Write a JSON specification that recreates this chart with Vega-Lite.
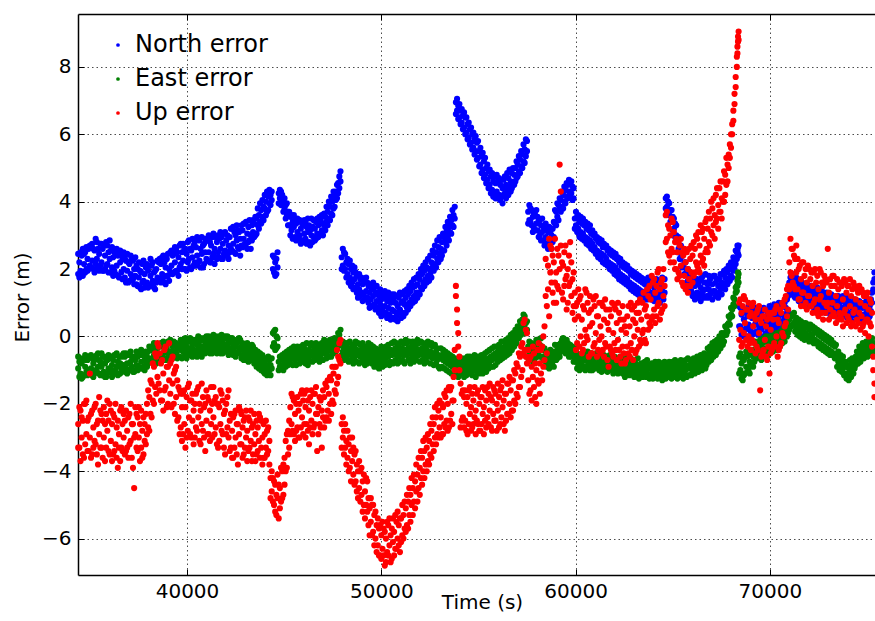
{
"$schema":"https://vega.github.io/schema/vega-lite/v6.json",
"width":797,"height":561,
"autosize":{"type":"none"},
"padding":{"left":78,"top":14,"right":0,"bottom":46},
"background":"white",
"config":{
"view":{"stroke":null},
"font":"DejaVu Sans",
"axis":{"domainColor":"#000","domainWidth":1.5,"tickColor":"#000","tickWidth":1,"tickSize":-6,"labelColor":"#000","labelFontSize":20,"labelFont":"DejaVu Sans","titleFont":"DejaVu Sans","titleFontSize":20,"titleFontWeight":"normal","titleColor":"#000","gridColor":"#000","gridDash":[1.5,3],"gridOpacity":0.7,"gridWidth":1},
"legend":{"orient":"none","legendX":28,"legendY":19,"padding":0,"symbolType":"circle","symbolSize":14,"symbolStrokeWidth":0,"labelFontSize":24,"labelFont":"DejaVu Sans","labelColor":"#000","labelOffset":5,"rowPadding":10,"labelLimit":300,"title":null}
},
"data":{"values":[
{"t":34400,"N":1.85,"E":-0.95,"U":-2.6,"n":2.45,"e":-0.6,"u":-3.3},{"t":34460,"N":2.2,"E":-0.75,"U":-3.3,"n":1.75,"e":-1.2,"u":-2.1},{"t":34520,"N":1.95,"E":-1.1,"U":-2.2,"n":2.5,"e":-0.65,"u":-3.7},{"t":34580,"N":2.4,"E":-0.8,"U":-3.0,"n":1.85,"e":-1.25,"u":-2.4},{"t":34640,"N":1.8,"E":-1.2,"U":-2.5,"n":2.6,"e":-0.7,"u":-3.5},{"t":34700,"N":2.15,"E":-0.65,"U":-3.6,"n":2.45,"e":-1.15,"u":-2.0},{"t":34760,"N":2.5,"E":-0.9,"U":-2.0,"n":1.9,"e":-0.55,"u":-3.2},{"t":34820,"N":2.0,"E":-1.05,"U":-2.9,"n":2.65,"e":-0.7,"u":-1.9},{"t":34880,"N":2.3,"E":-0.7,"U":-3.4,"n":1.95,"e":-1.15,"u":-2.5},{"t":34940,"N":2.6,"E":-1.0,"U":-2.4,"n":2.0,"e":-0.6,"u":-3.4},
{"t":35000,"N":2.1,"E":-0.6,"U":-1.1,"n":2.7,"e":-1.1,"u":-3.0},{"t":35060,"N":2.7,"E":-0.95,"U":-2.3,"n":2.05,"e":-0.55,"u":-3.6},{"t":35120,"N":2.25,"E":-1.15,"U":-3.5,"n":2.75,"e":-0.65,"u":-2.2},{"t":35180,"N":2.0,"E":-0.8,"U":-2.7,"n":2.6,"e":-1.2,"u":-3.3},{"t":35240,"N":2.55,"E":-0.7,"U":-2.1,"n":1.9,"e":-1.1,"u":-3.1},{"t":35300,"N":2.9,"E":-1.0,"U":-3.2,"n":2.15,"e":-0.6,"u":-2.0},{"t":35360,"N":2.3,"E":-0.55,"U":-2.6,"n":2.8,"e":-1.05,"u":-3.5},{"t":35420,"N":2.05,"E":-0.9,"U":-3.8,"n":2.6,"e":-0.5,"u":-2.5},{"t":35480,"N":2.45,"E":-1.1,"U":-2.9,"n":1.95,"e":-0.7,"u":-1.8},{"t":35540,"N":2.75,"E":-0.75,"U":-2.2,"n":2.1,"e":-1.15,"u":-3.3},
{"t":35600,"N":2.2,"E":-0.9,"U":-3.3,"n":2.75,"e":-0.5,"u":-2.3},{"t":35660,"N":2.6,"E":-0.6,"U":-2.5,"n":1.95,"e":-1.15,"u":-3.6},{"t":35720,"N":1.95,"E":-1.05,"U":-3.0,"n":2.7,"e":-0.6,"u":-2.1},{"t":35780,"N":2.4,"E":-0.8,"U":-3.7,"n":2.0,"e":-1.2,"u":-2.6},{"t":35840,"N":2.8,"E":-1.2,"U":-2.3,"n":2.1,"e":-0.7,"u":-3.3},{"t":35900,"N":2.15,"E":-0.7,"U":-2.8,"n":2.7,"e":-1.1,"u":-1.9},{"t":35960,"N":2.5,"E":-0.95,"U":-3.4,"n":1.9,"e":-0.55,"u":-2.5},{"t":36020,"N":2.3,"E":-0.65,"U":-2.0,"n":2.85,"e":-1.05,"u":-3.5},{"t":36080,"N":1.9,"E":-1.0,"U":-3.1,"n":2.55,"e":-0.6,"u":-2.2},{"t":36140,"N":2.65,"E":-0.85,"U":-2.6,"n":2.05,"e":-1.2,"u":-3.7},
{"t":36200,"N":2.35,"E":-0.7,"U":-3.5,"n":1.8,"e":-1.1,"u":-2.3},{"t":36260,"N":1.95,"E":-1.05,"U":-2.4,"n":2.5,"e":-0.55,"u":-3.4},{"t":36320,"N":2.5,"E":-0.55,"U":-3.2,"n":1.85,"e":-1.0,"u":-2.0},{"t":36380,"N":2.1,"E":-0.9,"U":-2.7,"n":2.6,"e":-0.5,"u":-3.6},{"t":36440,"N":1.8,"E":-0.75,"U":-3.9,"n":2.4,"e":-1.15,"u":-2.5},{"t":36500,"N":2.45,"E":-1.1,"U":-2.9,"n":1.75,"e":-0.6,"u":-3.3},{"t":36560,"N":2.2,"E":-0.8,"U":-2.2,"n":2.55,"e":-1.1,"u":-3.7},{"t":36620,"N":1.9,"E":-0.6,"U":-3.3,"n":2.45,"e":-0.95,"u":-2.1},{"t":36680,"N":2.3,"E":-1.0,"U":-2.6,"n":1.7,"e":-0.55,"u":-3.4},{"t":36740,"N":2.0,"E":-0.85,"U":-3.0,"n":2.5,"e":-0.5,"u":-2.3},
{"t":36800,"N":1.75,"E":-0.6,"U":-2.5,"n":2.35,"e":-1.05,"u":-3.5},{"t":36860,"N":2.25,"E":-0.95,"U":-3.4,"n":1.6,"e":-0.5,"u":-2.2},{"t":36920,"N":1.95,"E":-0.8,"U":-2.8,"n":2.45,"e":-1.1,"u":-3.3},{"t":36980,"N":1.6,"E":-1.0,"U":-3.6,"n":2.2,"e":-0.55,"u":-2.4},{"t":37040,"N":2.15,"E":-0.55,"U":-2.3,"n":1.65,"e":-1.0,"u":-3.2},{"t":37100,"N":1.85,"E":-0.75,"U":-3.1,"n":2.4,"e":-0.45,"u":-2.0},{"t":37160,"N":2.3,"E":-0.9,"U":-2.6,"n":1.7,"e":-0.6,"u":-3.6},{"t":37220,"N":1.7,"E":-0.65,"U":-3.9,"n":2.25,"e":-1.05,"u":-2.6},{"t":37280,"N":2.0,"E":-1.05,"U":-4.5,"n":1.55,"e":-0.6,"u":-3.0},{"t":37340,"N":1.8,"E":-0.7,"U":-2.9,"n":2.35,"e":-1.0,"u":-2.1},
{"t":37400,"N":1.55,"E":-0.85,"U":-3.3,"n":2.1,"e":-0.45,"u":-2.3},{"t":37460,"N":2.0,"E":-0.6,"U":-2.4,"n":1.5,"e":-1.0,"u":-3.4},{"t":37520,"N":1.75,"E":-0.9,"U":-3.0,"n":2.2,"e":-0.5,"u":-2.1},{"t":37580,"N":1.45,"E":-0.55,"U":-3.7,"n":1.95,"e":-0.95,"u":-2.6},{"t":37640,"N":1.9,"E":-0.75,"U":-2.2,"n":1.4,"e":-0.4,"u":-3.3},{"t":37700,"N":2.15,"E":-0.95,"U":-2.8,"n":1.6,"e":-0.55,"u":-3.6},{"t":37760,"N":1.65,"E":-0.5,"U":-3.5,"n":2.25,"e":-0.9,"u":-2.4},{"t":37820,"N":1.85,"E":-0.7,"U":-2.6,"n":1.45,"e":-1.0,"u":-3.1},{"t":37880,"N":2.05,"E":-0.85,"U":-3.2,"n":1.55,"e":-0.45,"u":-2.3},{"t":37940,"N":1.6,"E":-0.6,"U":-2.0,"n":2.15,"e":-0.9,"u":-2.9},
{"t":38000,"N":1.95,"E":-0.45,"U":-2.7,"n":1.45,"e":-0.8,"u":-1.6},{"t":38060,"N":1.5,"E":-0.7,"U":-1.8,"n":2.1,"e":-0.3,"u":-2.8},{"t":38120,"N":1.8,"E":-0.4,"U":-2.3,"n":2.3,"e":-0.75,"u":-1.3},{"t":38180,"N":2.1,"E":-0.65,"U":-1.4,"n":1.55,"e":-0.3,"u":-2.4},{"t":38240,"N":1.65,"E":-0.3,"U":-1.9,"n":2.2,"e":-0.7,"u":-0.8},{"t":38300,"N":1.9,"E":-0.55,"U":-0.9,"n":1.45,"e":-0.2,"u":-2.0},{"t":38360,"N":1.4,"E":-0.75,"U":-1.5,"n":1.95,"e":-0.4,"u":-0.5},{"t":38420,"N":2.0,"E":-0.5,"U":-0.6,"n":1.6,"e":-0.8,"u":-1.7},{"t":38480,"N":1.75,"E":-0.35,"U":-1.2,"n":2.25,"e":-0.65,"u":-0.2},{"t":38540,"N":2.2,"E":-0.6,"U":-0.3,"n":1.7,"e":-0.25,"u":-1.4},
{"t":38600,"N":1.7,"E":-0.3,"U":-1.6,"n":2.3,"e":-0.65,"u":-0.5},{"t":38660,"N":2.15,"E":-0.55,"U":-0.8,"n":1.6,"e":-0.2,"u":-1.9},{"t":38720,"N":1.85,"E":-0.25,"U":-1.9,"n":2.35,"e":-0.6,"u":-0.7},{"t":38780,"N":2.4,"E":-0.5,"U":-1.1,"n":1.75,"e":-0.15,"u":-2.2},{"t":38840,"N":1.6,"E":-0.4,"U":-0.4,"n":2.2,"e":-0.7,"u":-1.6},{"t":38900,"N":2.05,"E":-0.65,"U":-1.5,"n":1.55,"e":-0.25,"u":-0.3},{"t":38960,"N":2.3,"E":-0.35,"U":-2.1,"n":1.8,"e":-0.7,"u":-0.9},{"t":39020,"N":1.8,"E":-0.5,"U":-0.9,"n":2.45,"e":-0.15,"u":-2.0},{"t":39080,"N":2.0,"E":-0.2,"U":-1.3,"n":1.65,"e":-0.55,"u":-0.2},{"t":39140,"N":2.5,"E":-0.45,"U":-1.7,"n":1.9,"e":-0.1,"u":-0.8},
{"t":39200,"N":2.1,"E":-0.55,"U":-0.7,"n":2.55,"e":-0.2,"u":-2.1},{"t":39260,"N":1.85,"E":-0.3,"U":-1.4,"n":2.4,"e":-0.65,"u":-0.6},{"t":39320,"N":2.45,"E":-0.45,"U":-2.0,"n":1.9,"e":-0.15,"u":-1.1},{"t":39380,"N":2.2,"E":-0.2,"U":-1.0,"n":2.65,"e":-0.55,"u":-2.3},{"t":39440,"N":2.6,"E":-0.5,"U":-1.8,"n":1.95,"e":-0.2,"u":-0.9},{"t":39500,"N":1.95,"E":-0.35,"U":-1.3,"n":2.5,"e":-0.65,"u":-2.5},{"t":39560,"N":2.35,"E":-0.6,"U":-2.4,"n":1.8,"e":-0.25,"u":-1.5},{"t":39620,"N":2.7,"E":-0.25,"U":-1.6,"n":2.05,"e":-0.6,"u":-2.9},{"t":39680,"N":2.15,"E":-0.4,"U":-2.7,"n":2.75,"e":-0.1,"u":-1.7},{"t":39740,"N":2.5,"E":-0.3,"U":-2.1,"n":2.0,"e":-0.65,"u":-3.1},
{"t":39800,"N":2.25,"E":-0.45,"U":-1.7,"n":2.75,"e":-0.1,"u":-2.9},{"t":39860,"N":2.6,"E":-0.2,"U":-2.6,"n":2.0,"e":-0.6,"u":-1.6},{"t":39920,"N":2.0,"E":-0.4,"U":-2.1,"n":2.6,"e":-0.05,"u":-3.3},{"t":39980,"N":2.45,"E":-0.3,"U":-3.0,"n":1.95,"e":-0.65,"u":-1.8},{"t":40040,"N":2.8,"E":-0.5,"U":-1.5,"n":2.2,"e":-0.15,"u":-2.8},{"t":40100,"N":2.3,"E":-0.15,"U":-2.4,"n":2.85,"e":-0.55,"u":-1.4},{"t":40160,"N":2.05,"E":-0.35,"U":-2.9,"n":2.6,"e":-0.05,"u":-1.9},{"t":40220,"N":2.55,"E":-0.45,"U":-1.9,"n":2.0,"e":-0.15,"u":-3.0},{"t":40280,"N":2.35,"E":-0.25,"U":-2.5,"n":2.9,"e":-0.6,"u":-1.7},{"t":40340,"N":2.7,"E":-0.4,"U":-3.2,"n":2.1,"e":-0.1,"u":-2.2},
{"t":40400,"N":2.2,"E":-0.2,"U":-2.0,"n":2.8,"e":-0.55,"u":-3.0},{"t":40460,"N":2.65,"E":-0.45,"U":-2.7,"n":2.1,"e":-0.1,"u":-1.7},{"t":40520,"N":2.4,"E":-0.25,"U":-1.6,"n":2.95,"e":-0.6,"u":-2.8},{"t":40580,"N":2.9,"E":-0.35,"U":-2.4,"n":2.2,"e":0.0,"u":-1.5},{"t":40640,"N":2.25,"E":-0.15,"U":-3.1,"n":2.85,"e":-0.5,"u":-2.0},{"t":40700,"N":2.6,"E":-0.4,"U":-2.2,"n":2.05,"e":-0.05,"u":-3.2},{"t":40760,"N":2.45,"E":-0.3,"U":-1.4,"n":2.95,"e":-0.6,"u":-2.6},{"t":40820,"N":2.05,"E":-0.1,"U":-2.8,"n":2.7,"e":-0.45,"u":-1.8},{"t":40880,"N":2.75,"E":-0.35,"U":-2.1,"n":2.15,"e":-0.05,"u":-3.0},{"t":40940,"N":2.5,"E":-0.2,"U":-3.4,"n":2.9,"e":-0.5,"u":-2.0},
{"t":41000,"N":2.3,"E":-0.35,"U":-2.5,"n":2.9,"e":0.0,"u":-1.6},{"t":41060,"N":2.85,"E":-0.1,"U":-1.8,"n":2.25,"e":-0.45,"u":-2.9},{"t":41120,"N":2.5,"E":-0.3,"U":-2.9,"n":3.0,"e":0.0,"u":-1.9},{"t":41180,"N":2.2,"E":-0.2,"U":-2.2,"n":2.8,"e":-0.5,"u":-3.1},{"t":41240,"N":2.7,"E":-0.4,"U":-1.5,"n":2.2,"e":-0.05,"u":-2.6},{"t":41300,"N":2.95,"E":-0.15,"U":-3.0,"n":2.35,"e":-0.5,"u":-2.0},{"t":41360,"N":2.45,"E":-0.25,"U":-2.4,"n":3.05,"e":0.05,"u":-1.5},{"t":41420,"N":2.6,"E":-0.05,"U":-1.9,"n":2.15,"e":-0.4,"u":-2.9},{"t":41480,"N":2.35,"E":-0.3,"U":-2.7,"n":2.95,"e":0.0,"u":-1.8},{"t":41540,"N":2.8,"E":-0.2,"U":-2.0,"n":2.3,"e":-0.5,"u":-3.2},
{"t":41600,"N":2.5,"E":-0.1,"U":-3.3,"n":3.0,"e":-0.45,"u":-2.0},{"t":41660,"N":2.9,"E":-0.35,"U":-2.1,"n":2.35,"e":0.0,"u":-3.1},{"t":41720,"N":2.6,"E":-0.2,"U":-2.6,"n":3.1,"e":-0.5,"u":-1.6},{"t":41780,"N":2.3,"E":-0.3,"U":-1.7,"n":2.95,"e":0.05,"u":-2.8},{"t":41840,"N":2.75,"E":-0.15,"U":-2.9,"n":2.3,"e":-0.5,"u":-1.9},{"t":41900,"N":3.05,"E":-0.4,"U":-2.3,"n":2.45,"e":-0.05,"u":-3.3},{"t":41960,"N":2.55,"E":-0.25,"U":-3.5,"n":3.1,"e":0.0,"u":-2.2},{"t":42020,"N":2.85,"E":-0.05,"U":-2.0,"n":2.4,"e":-0.45,"u":-2.9},{"t":42080,"N":2.4,"E":-0.3,"U":-2.7,"n":3.0,"e":0.0,"u":-1.8},{"t":42140,"N":2.7,"E":-0.2,"U":-1.6,"n":2.3,"e":-0.55,"u":-3.0},
{"t":42200,"N":2.95,"E":-0.35,"U":-2.5,"n":2.5,"e":-0.05,"u":-3.4},{"t":42260,"N":2.6,"E":-0.15,"U":-3.3,"n":3.2,"e":-0.5,"u":-2.3},{"t":42320,"N":3.2,"E":-0.4,"U":-2.8,"n":2.55,"e":-0.05,"u":-3.6},{"t":42380,"N":2.75,"E":-0.25,"U":-3.6,"n":3.25,"e":-0.55,"u":-2.4},{"t":42440,"N":2.5,"E":-0.45,"U":-2.3,"n":3.1,"e":-0.1,"u":-3.3},{"t":42500,"N":3.0,"E":-0.3,"U":-3.0,"n":2.45,"e":-0.6,"u":-2.2},{"t":42560,"N":2.85,"E":-0.2,"U":-2.6,"n":3.3,"e":-0.5,"u":-3.5},{"t":42620,"N":2.65,"E":-0.5,"U":-3.8,"n":3.15,"e":-0.15,"u":-2.6},{"t":42680,"N":3.1,"E":-0.35,"U":-2.9,"n":2.6,"e":-0.05,"u":-2.1},{"t":42740,"N":2.9,"E":-0.4,"U":-2.2,"n":2.4,"e":-0.1,"u":-3.2},
{"t":42800,"N":2.7,"E":-0.3,"U":-3.2,"n":3.3,"e":-0.65,"u":-2.3},{"t":42860,"N":3.15,"E":-0.55,"U":-2.7,"n":2.65,"e":-0.2,"u":-3.6},{"t":42920,"N":2.9,"E":-0.4,"U":-3.5,"n":3.35,"e":-0.7,"u":-2.5},{"t":42980,"N":3.35,"E":-0.6,"U":-2.4,"n":2.75,"e":-0.25,"u":-3.3},{"t":43040,"N":2.75,"E":-0.35,"U":-3.0,"n":3.4,"e":-0.7,"u":-2.2},{"t":43100,"N":3.05,"E":-0.5,"U":-2.8,"n":2.6,"e":-0.2,"u":-3.7},{"t":43160,"N":3.25,"E":-0.45,"U":-3.4,"n":2.8,"e":-0.75,"u":-2.4},{"t":43220,"N":2.85,"E":-0.65,"U":-2.5,"n":3.45,"e":-0.3,"u":-3.3},{"t":43280,"N":3.0,"E":-0.4,"U":-3.1,"n":2.6,"e":-0.7,"u":-2.2},{"t":43340,"N":3.3,"E":-0.55,"U":-3.7,"n":2.85,"e":-0.25,"u":-2.7},
{"t":43400,"N":3.1,"E":-0.6,"U":-2.6,"n":3.45,"e":-0.3,"u":-3.5},{"t":43460,"N":3.35,"E":-0.45,"U":-3.2,"n":2.95,"e":-0.8,"u":-2.3},{"t":43520,"N":3.0,"E":-0.7,"U":-2.9,"n":3.55,"e":-0.4,"u":-3.7},{"t":43580,"N":3.5,"E":-0.55,"U":-3.5,"n":3.05,"e":-0.9,"u":-2.5},{"t":43640,"N":3.3,"E":-0.75,"U":-2.7,"n":3.8,"e":-0.45,"u":-3.4},{"t":43700,"N":3.6,"E":-0.6,"U":-3.1,"n":3.2,"e":-0.95,"u":-2.3},{"t":43760,"N":3.4,"E":-0.8,"U":-2.4,"n":3.95,"e":-0.5,"u":-3.6},{"t":43820,"N":3.75,"E":-0.65,"U":-3.3,"n":3.35,"e":-1.0,"u":-2.5},{"t":43880,"N":3.55,"E":-0.85,"U":-3.0,"n":4.05,"e":-0.55,"u":-3.8},{"t":43940,"N":3.85,"E":-0.7,"U":-3.6,"n":3.45,"e":-1.05,"u":-2.6},
{"t":44000,"N":3.8,"E":-0.8,"U":-2.9,"n":4.2,"e":-1.1,"u":-3.6},{"t":44060,"N":4.0,"E":-0.95,"U":-3.3,"n":3.6,"e":-0.65,"u":-2.5},{"t":44120,"N":3.7,"E":-0.85,"U":-2.8,"n":4.3,"e":-1.15,"u":-3.5},{"t":44180,"N":4.15,"E":-0.9,"U":-3.4,"n":3.75,"e":-0.6,"u":-2.7},{"t":44240,"N":3.95,"E":-1.0,"U":-3.1,"n":4.35,"e":-0.7,"u":-3.8},{"t":44300,"N":4.2,"E":-0.85,"U":-4.2,"n":3.9,"e":-1.15,"u":-4.8},{"t":44360,"N":4.05,"E":-0.95,"U":-4.6,"n":4.3,"e":-0.65,"u":-4.0},{"t":44420,"N":2.4,"E":0.1,"U":-4.9,"n":2.0,"e":-0.3,"u":-4.2},{"t":44480,"N":1.9,"E":-0.2,"U":-4.3,"n":2.35,"e":0.15,"u":-5.0},{"t":44540,"N":2.2,"E":0.2,"U":-5.2,"n":1.8,"e":-0.4,"u":-4.4},
{"t":44600,"N":1.85,"E":-0.35,"U":-4.7,"n":2.3,"e":0.0,"u":-5.3},{"t":44660,"N":2.5,"E":-0.05,"U":-4.1,"n":2.05,"e":-0.3,"u":-4.8},{"t":44720,"N":4.25,"E":-0.75,"U":-5.4,"n":3.95,"e":-1.0,"u":-4.4},{"t":44780,"N":4.1,"E":-0.9,"U":-4.5,"n":4.35,"e":-0.6,"u":-5.1},{"t":44840,"N":4.3,"E":-0.65,"U":-4.9,"n":3.9,"e":-0.95,"u":-3.9},{"t":44900,"N":3.95,"E":-0.85,"U":-4.0,"n":4.2,"e":-0.55,"u":-4.8},{"t":44960,"N":4.05,"E":-0.7,"U":-4.7,"n":3.7,"e":-1.0,"u":-3.8},{"t":45020,"N":3.8,"E":-0.8,"U":-3.6,"n":4.1,"e":-0.5,"u":-4.4},{"t":45080,"N":3.9,"E":-0.6,"U":-3.1,"n":3.5,"e":-0.9,"u":-4.0},{"t":45140,"N":3.6,"E":-0.75,"U":-3.9,"n":3.95,"e":-0.45,"u":-2.9},
{"t":45200,"N":3.7,"E":-0.55,"U":-2.8,"n":3.3,"e":-0.85,"u":-3.5},{"t":45260,"N":3.3,"E":-0.7,"U":-3.3,"n":3.7,"e":-0.4,"u":-2.5},{"t":45320,"N":3.55,"E":-0.5,"U":-2.1,"n":3.0,"e":-0.8,"u":-2.9},{"t":45380,"N":3.15,"E":-0.65,"U":-2.6,"n":3.6,"e":-0.35,"u":-1.7},{"t":45440,"N":3.4,"E":-0.45,"U":-1.8,"n":2.9,"e":-0.85,"u":-2.8},{"t":45500,"N":3.25,"E":-0.6,"U":-2.9,"n":3.6,"e":-0.3,"u":-1.9},{"t":45560,"N":2.95,"E":-0.7,"U":-2.3,"n":3.45,"e":-0.4,"u":-3.1},{"t":45620,"N":3.35,"E":-0.5,"U":-2.0,"n":2.85,"e":-0.85,"u":-2.8},{"t":45680,"N":3.1,"E":-0.55,"U":-2.7,"n":3.5,"e":-0.3,"u":-1.8},{"t":45740,"N":3.45,"E":-0.65,"U":-2.2,"n":2.95,"e":-0.35,"u":-3.0},
{"t":45800,"N":3.0,"E":-0.45,"U":-3.0,"n":3.45,"e":-0.8,"u":-2.0},{"t":45860,"N":3.2,"E":-0.6,"U":-1.7,"n":2.75,"e":-0.3,"u":-2.7},{"t":45920,"N":2.85,"E":-0.4,"U":-2.4,"n":3.35,"e":-0.75,"u":-1.6},{"t":45980,"N":3.3,"E":-0.55,"U":-1.9,"n":2.8,"e":-0.25,"u":-2.9},{"t":46040,"N":3.05,"E":-0.65,"U":-2.6,"n":3.45,"e":-0.35,"u":-1.7},{"t":46100,"N":2.9,"E":-0.45,"U":-2.1,"n":3.4,"e":-0.8,"u":-3.0},{"t":46160,"N":3.25,"E":-0.5,"U":-1.6,"n":2.75,"e":-0.2,"u":-2.6},{"t":46220,"N":3.1,"E":-0.6,"U":-2.8,"n":3.5,"e":-0.85,"u":-1.9},{"t":46280,"N":2.8,"E":-0.4,"U":-2.2,"n":3.3,"e":-0.7,"u":-3.2},{"t":46340,"N":3.15,"E":-0.55,"U":-1.8,"n":2.7,"e":-0.25,"u":-2.7},
{"t":46400,"N":3.0,"E":-0.5,"U":-2.5,"n":3.5,"e":-0.2,"u":-1.6},{"t":46460,"N":3.25,"E":-0.45,"U":-2.0,"n":2.8,"e":-0.75,"u":-2.9},{"t":46520,"N":2.95,"E":-0.6,"U":-2.7,"n":3.45,"e":-0.3,"u":-1.7},{"t":46580,"N":3.2,"E":-0.4,"U":-1.7,"n":2.85,"e":-0.7,"u":-2.6},{"t":46640,"N":3.4,"E":-0.5,"U":-2.3,"n":2.9,"e":-0.2,"u":-1.5},{"t":46700,"N":3.05,"E":-0.35,"U":-3.4,"n":3.5,"e":-0.65,"u":-2.3},{"t":46760,"N":3.3,"E":-0.55,"U":-2.1,"n":2.95,"e":-0.25,"u":-2.9},{"t":46820,"N":3.0,"E":-0.45,"U":-2.6,"n":3.55,"e":-0.75,"u":-1.8},{"t":46880,"N":3.45,"E":-0.3,"U":-1.9,"n":3.05,"e":-0.6,"u":-2.7},{"t":46940,"N":3.15,"E":-0.5,"U":-3.3,"n":3.6,"e":-0.2,"u":-2.2},
{"t":47000,"N":3.35,"E":-0.4,"U":-2.4,"n":3.0,"e":-0.7,"u":-1.6},{"t":47060,"N":3.3,"E":-0.35,"U":-1.8,"n":3.65,"e":-0.1,"u":-2.7},{"t":47120,"N":3.55,"E":-0.5,"U":-2.5,"n":3.15,"e":-0.2,"u":-1.4},{"t":47180,"N":3.4,"E":-0.3,"U":-1.5,"n":3.85,"e":-0.65,"u":-2.4},{"t":47240,"N":3.7,"E":-0.45,"U":-2.2,"n":3.3,"e":-0.15,"u":-1.3},{"t":47300,"N":3.5,"E":-0.25,"U":-1.7,"n":4.0,"e":-0.6,"u":-2.5},{"t":47360,"N":3.85,"E":-0.4,"U":-2.0,"n":3.45,"e":-0.1,"u":-1.2},{"t":47420,"N":3.65,"E":-0.3,"U":-1.3,"n":4.15,"e":-0.6,"u":-2.3},{"t":47480,"N":4.0,"E":-0.45,"U":-1.9,"n":3.6,"e":-0.15,"u":-0.9},{"t":47540,"N":3.8,"E":-0.2,"U":-1.1,"n":4.3,"e":-0.5,"u":-2.0},
{"t":47600,"N":4.15,"E":-0.35,"U":-1.6,"n":3.85,"e":-0.05,"u":-0.9},{"t":47660,"N":4.3,"E":-0.25,"U":-0.9,"n":4.05,"e":-0.45,"u":-1.7},{"t":47720,"N":4.1,"E":-0.1,"U":-1.4,"n":4.5,"e":-0.35,"u":-0.4},{"t":47780,"N":4.55,"E":-0.3,"U":-0.6,"n":4.25,"e":0.1,"u":-1.2},{"t":47840,"N":4.4,"E":0.05,"U":-0.2,"n":4.75,"e":-0.25,"u":-0.7},{"t":47900,"N":4.9,"E":-0.15,"U":-0.8,"n":4.6,"e":0.2,"u":-0.1},{"t":47960,"N":2.35,"E":-0.2,"U":-2.6,"n":2.0,"e":-0.55,"u":-3.3},{"t":48020,"N":2.1,"E":-0.45,"U":-3.0,"n":2.6,"e":-0.15,"u":-2.4},{"t":48080,"N":2.5,"E":-0.35,"U":-2.8,"n":1.95,"e":-0.7,"u":-3.5},{"t":48140,"N":2.0,"E":-0.5,"U":-3.3,"n":2.45,"e":-0.2,"u":-2.6},
{"t":48200,"N":2.2,"E":-0.3,"U":-3.1,"n":1.75,"e":-0.65,"u":-3.8},{"t":48260,"N":1.85,"E":-0.55,"U":-3.6,"n":2.3,"e":-0.2,"u":-2.8},{"t":48320,"N":2.15,"E":-0.4,"U":-3.2,"n":1.6,"e":-0.75,"u":-4.0},{"t":48380,"N":1.75,"E":-0.5,"U":-3.9,"n":2.25,"e":-0.15,"u":-3.0},{"t":48440,"N":2.0,"E":-0.35,"U":-3.4,"n":1.5,"e":-0.7,"u":-4.3},{"t":48500,"N":1.6,"E":-0.6,"U":-3.7,"n":2.1,"e":-0.25,"u":-3.0},{"t":48560,"N":1.9,"E":-0.45,"U":-4.1,"n":1.4,"e":-0.8,"u":-3.3},{"t":48620,"N":1.7,"E":-0.3,"U":-3.5,"n":2.05,"e":-0.65,"u":-4.4},{"t":48680,"N":1.45,"E":-0.5,"U":-4.3,"n":1.9,"e":-0.15,"u":-3.4},{"t":48740,"N":1.8,"E":-0.4,"U":-3.8,"n":1.3,"e":-0.75,"u":-4.6},
{"t":48800,"N":1.55,"E":-0.55,"U":-4.0,"n":1.15,"e":-0.2,"u":-4.8},{"t":48860,"N":1.4,"E":-0.45,"U":-4.5,"n":1.85,"e":-0.8,"u":-3.7},{"t":48920,"N":1.7,"E":-0.6,"U":-4.0,"n":1.2,"e":-0.25,"u":-4.9},{"t":48980,"N":1.3,"E":-0.4,"U":-4.7,"n":1.75,"e":-0.75,"u":-3.9},{"t":49040,"N":1.55,"E":-0.55,"U":-4.3,"n":1.05,"e":-0.2,"u":-5.2},{"t":49100,"N":1.25,"E":-0.35,"U":-5.0,"n":1.7,"e":-0.7,"u":-4.1},{"t":49160,"N":1.6,"E":-0.5,"U":-4.6,"n":1.1,"e":-0.85,"u":-5.4},{"t":49220,"N":1.35,"E":-0.65,"U":-4.2,"n":1.75,"e":-0.3,"u":-5.0},{"t":49280,"N":1.15,"E":-0.45,"U":-5.2,"n":1.6,"e":-0.8,"u":-4.3},{"t":49340,"N":1.5,"E":-0.55,"U":-4.8,"n":1.0,"e":-0.2,"u":-5.6},
{"t":49400,"N":1.3,"E":-0.4,"U":-5.1,"n":0.85,"e":-0.75,"u":-5.9},{"t":49460,"N":1.1,"E":-0.6,"U":-5.5,"n":1.55,"e":-0.25,"u":-4.8},{"t":49520,"N":1.4,"E":-0.45,"U":-5.0,"n":0.9,"e":-0.8,"u":-5.9},{"t":49580,"N":1.2,"E":-0.65,"U":-5.8,"n":1.6,"e":-0.3,"u":-5.0},{"t":49640,"N":0.95,"E":-0.55,"U":-5.3,"n":1.45,"e":-0.9,"u":-6.2},{"t":49700,"N":1.3,"E":-0.7,"U":-6.0,"n":0.8,"e":-0.35,"u":-5.2},{"t":49760,"N":1.05,"E":-0.5,"U":-5.6,"n":1.5,"e":-0.85,"u":-6.4},{"t":49820,"N":0.85,"E":-0.75,"U":-6.2,"n":1.3,"e":-0.4,"u":-5.4},{"t":49880,"N":1.2,"E":-0.6,"U":-5.7,"n":0.7,"e":-0.95,"u":-6.5},{"t":49940,"N":0.95,"E":-0.8,"U":-6.5,"n":1.4,"e":-0.45,"u":-5.6},
{"t":50000,"N":1.1,"E":-0.65,"U":-5.9,"n":0.6,"e":-0.3,"u":-6.6},{"t":50060,"N":0.8,"E":-0.55,"U":-6.3,"n":1.3,"e":-0.9,"u":-5.5},{"t":50120,"N":1.15,"E":-0.7,"U":-5.7,"n":0.65,"e":-0.35,"u":-6.5},{"t":50180,"N":0.9,"E":-0.5,"U":-6.8,"n":1.35,"e":-0.85,"u":-5.8},{"t":50240,"N":0.7,"E":-0.65,"U":-6.0,"n":1.2,"e":-0.3,"u":-6.7},{"t":50300,"N":1.05,"E":-0.45,"U":-6.4,"n":0.55,"e":-0.8,"u":-5.5},{"t":50360,"N":0.85,"E":-0.6,"U":-5.6,"n":1.3,"e":-0.25,"u":-6.5},{"t":50420,"N":0.65,"E":-0.5,"U":-6.2,"n":1.15,"e":-0.85,"u":-5.4},{"t":50480,"N":1.0,"E":-0.4,"U":-5.9,"n":0.5,"e":-0.75,"u":-6.7},{"t":50540,"N":0.8,"E":-0.55,"U":-6.6,"n":1.25,"e":-0.2,"u":-5.7},
{"t":50600,"N":1.1,"E":-0.45,"U":-6.1,"n":0.55,"e":-0.8,"u":-5.4},{"t":50660,"N":0.75,"E":-0.5,"U":-5.8,"n":1.25,"e":-0.15,"u":-6.5},{"t":50720,"N":1.0,"E":-0.35,"U":-6.3,"n":0.5,"e":-0.7,"u":-5.3},{"t":50780,"N":0.6,"E":-0.55,"U":-5.5,"n":1.2,"e":-0.2,"u":-6.3},{"t":50840,"N":0.9,"E":-0.45,"U":-6.0,"n":0.45,"e":-0.8,"u":-5.2},{"t":50900,"N":1.15,"E":-0.6,"U":-5.6,"n":0.7,"e":-0.25,"u":-6.2},{"t":50960,"N":0.8,"E":-0.4,"U":-6.4,"n":1.3,"e":-0.75,"u":-5.4},{"t":51020,"N":1.0,"E":-0.5,"U":-5.4,"n":0.55,"e":-0.15,"u":-6.1},{"t":51080,"N":0.7,"E":-0.35,"U":-5.9,"n":1.25,"e":-0.7,"u":-5.0},{"t":51140,"N":1.05,"E":-0.55,"U":-5.3,"n":0.6,"e":-0.2,"u":-6.0},
{"t":51200,"N":0.95,"E":-0.45,"U":-5.7,"n":1.35,"e":-0.8,"u":-4.9},{"t":51260,"N":1.15,"E":-0.4,"U":-5.1,"n":0.7,"e":-0.1,"u":-5.8},{"t":51320,"N":0.85,"E":-0.55,"U":-5.6,"n":1.4,"e":-0.2,"u":-4.7},{"t":51380,"N":1.25,"E":-0.35,"U":-4.9,"n":0.8,"e":-0.7,"u":-5.7},{"t":51440,"N":1.0,"E":-0.5,"U":-5.3,"n":1.5,"e":-0.15,"u":-4.5},{"t":51500,"N":1.35,"E":-0.45,"U":-4.7,"n":0.9,"e":-0.8,"u":-5.5},{"t":51560,"N":1.1,"E":-0.3,"U":-5.0,"n":1.6,"e":-0.65,"u":-4.2},{"t":51620,"N":1.45,"E":-0.5,"U":-4.5,"n":1.0,"e":-0.15,"u":-5.3},{"t":51680,"N":1.2,"E":-0.4,"U":-4.9,"n":1.7,"e":-0.75,"u":-4.1},{"t":51740,"N":1.5,"E":-0.55,"U":-4.3,"n":1.05,"e":-0.2,"u":-5.1},
{"t":51800,"N":1.3,"E":-0.35,"U":-4.6,"n":1.75,"e":-0.7,"u":-3.8},{"t":51860,"N":1.55,"E":-0.45,"U":-4.1,"n":1.15,"e":-0.1,"u":-4.9},{"t":51920,"N":1.3,"E":-0.55,"U":-4.5,"n":1.85,"e":-0.2,"u":-3.6},{"t":51980,"N":1.7,"E":-0.4,"U":-3.9,"n":1.25,"e":-0.75,"u":-4.7},{"t":52040,"N":1.45,"E":-0.5,"U":-4.2,"n":2.0,"e":-0.15,"u":-3.4},{"t":52100,"N":1.85,"E":-0.35,"U":-3.6,"n":1.4,"e":-0.7,"u":-4.4},{"t":52160,"N":1.6,"E":-0.55,"U":-4.0,"n":2.1,"e":-0.2,"u":-3.1},{"t":52220,"N":1.95,"E":-0.45,"U":-3.4,"n":1.5,"e":-0.8,"u":-4.2},{"t":52280,"N":1.7,"E":-0.6,"U":-3.8,"n":2.2,"e":-0.25,"u":-3.0},{"t":52340,"N":2.05,"E":-0.4,"U":-3.3,"n":1.6,"e":-0.75,"u":-4.0},
{"t":52400,"N":1.8,"E":-0.5,"U":-3.7,"n":2.3,"e":-0.15,"u":-2.9},{"t":52460,"N":2.0,"E":-0.6,"U":-3.1,"n":1.65,"e":-0.25,"u":-3.8},{"t":52520,"N":1.85,"E":-0.45,"U":-3.5,"n":2.4,"e":-0.8,"u":-2.6},{"t":52580,"N":2.2,"E":-0.55,"U":-2.8,"n":1.75,"e":-0.2,"u":-3.6},{"t":52640,"N":2.05,"E":-0.65,"U":-3.2,"n":2.55,"e":-0.3,"u":-2.4},{"t":52700,"N":2.4,"E":-0.5,"U":-2.6,"n":1.95,"e":-0.85,"u":-3.4},{"t":52760,"N":2.15,"E":-0.6,"U":-3.0,"n":2.7,"e":-0.25,"u":-2.1},{"t":52820,"N":2.5,"E":-0.45,"U":-2.4,"n":2.05,"e":-0.8,"u":-3.2},{"t":52880,"N":2.3,"E":-0.7,"U":-2.9,"n":2.85,"e":-0.35,"u":-2.0},{"t":52940,"N":2.65,"E":-0.55,"U":-2.2,"n":2.2,"e":-0.9,"u":-3.0},
{"t":53000,"N":2.45,"E":-0.6,"U":-2.7,"n":2.95,"e":-0.95,"u":-1.9},{"t":53060,"N":2.6,"E":-0.65,"U":-2.4,"n":2.3,"e":-0.35,"u":-3.0},{"t":53120,"N":2.8,"E":-0.55,"U":-2.9,"n":2.4,"e":-0.9,"u":-2.0},{"t":53180,"N":2.55,"E":-0.7,"U":-2.1,"n":3.05,"e":-0.4,"u":-2.9},{"t":53240,"N":2.95,"E":-0.6,"U":-2.6,"n":2.55,"e":-0.95,"u":-1.7},{"t":53300,"N":2.8,"E":-0.75,"U":-1.8,"n":3.25,"e":-0.45,"u":-2.7},{"t":53360,"N":3.1,"E":-0.65,"U":-2.5,"n":2.7,"e":-1.0,"u":-1.6},{"t":53420,"N":2.95,"E":-0.8,"U":-2.0,"n":3.4,"e":-0.5,"u":-2.8},{"t":53480,"N":3.25,"E":-0.7,"U":-2.7,"n":2.85,"e":-1.05,"u":-1.5},{"t":53540,"N":3.1,"E":-0.85,"U":-1.6,"n":3.55,"e":-0.55,"u":-2.5},
{"t":53600,"N":3.45,"E":-0.75,"U":-2.3,"n":3.05,"e":-1.1,"u":-1.5},{"t":53660,"N":3.3,"E":-0.9,"U":-1.9,"n":3.75,"e":-0.6,"u":-2.6},{"t":53720,"N":3.6,"E":-0.8,"U":-1.2,"n":3.25,"e":-1.1,"u":-1.9},{"t":53780,"N":3.5,"E":-0.95,"U":-0.4,"n":3.85,"e":-0.65,"u":-1.0},{"t":53840,"N":6.95,"E":-0.85,"U":1.5,"n":6.6,"e":-1.15,"u":1.2},{"t":53900,"N":6.7,"E":-1.0,"U":0.8,"n":7.05,"e":-0.7,"u":0.4},{"t":53960,"N":6.85,"E":-0.9,"U":0.1,"n":6.45,"e":-1.2,"u":-0.3},{"t":54020,"N":6.5,"E":-1.1,"U":-0.6,"n":6.9,"e":-0.75,"u":-1.0},{"t":54080,"N":6.7,"E":-0.8,"U":-1.4,"n":6.3,"e":-1.1,"u":-2.7},{"t":54140,"N":6.35,"E":-0.95,"U":-1.7,"n":6.75,"e":-0.65,"u":-2.5},
{"t":54200,"N":6.55,"E":-1.05,"U":-2.4,"n":6.15,"e":-0.7,"u":-1.6},{"t":54260,"N":6.2,"E":-0.85,"U":-1.8,"n":6.65,"e":-1.2,"u":-2.7},{"t":54320,"N":6.5,"E":-1.0,"U":-2.5,"n":6.0,"e":-0.65,"u":-1.6},{"t":54380,"N":6.05,"E":-0.8,"U":-2.0,"n":6.5,"e":-1.15,"u":-2.8},{"t":54440,"N":6.3,"E":-0.95,"U":-2.9,"n":5.85,"e":-0.6,"u":-1.8},{"t":54500,"N":5.9,"E":-0.75,"U":-1.6,"n":6.35,"e":-1.1,"u":-2.6},{"t":54560,"N":6.15,"E":-0.9,"U":-2.3,"n":5.7,"e":-0.6,"u":-1.5},{"t":54620,"N":5.75,"E":-1.05,"U":-2.1,"n":6.2,"e":-0.7,"u":-2.8},{"t":54680,"N":6.0,"E":-0.8,"U":-2.7,"n":5.55,"e":-1.15,"u":-1.7},{"t":54740,"N":5.6,"E":-0.95,"U":-1.9,"n":6.05,"e":-0.65,"u":-2.6},
{"t":54800,"N":5.85,"E":-0.85,"U":-2.4,"n":5.4,"e":-0.55,"u":-1.5},{"t":54860,"N":5.5,"E":-0.9,"U":-2.2,"n":5.95,"e":-1.2,"u":-2.9},{"t":54920,"N":5.75,"E":-0.75,"U":-1.7,"n":5.25,"e":-1.05,"u":-2.5},{"t":54980,"N":5.3,"E":-0.95,"U":-2.6,"n":5.8,"e":-0.6,"u":-1.6},{"t":55040,"N":5.5,"E":-0.8,"U":-2.0,"n":5.05,"e":-1.1,"u":-2.8},{"t":55100,"N":5.1,"E":-0.7,"U":-2.8,"n":5.6,"e":-1.0,"u":-1.8},{"t":55160,"N":5.35,"E":-0.9,"U":-1.8,"n":4.85,"e":-0.55,"u":-2.6},{"t":55220,"N":4.95,"E":-0.8,"U":-2.3,"n":5.45,"e":-1.1,"u":-1.5},{"t":55280,"N":5.2,"E":-0.65,"U":-2.1,"n":4.7,"e":-0.95,"u":-2.9},{"t":55340,"N":4.8,"E":-0.85,"U":-2.5,"n":5.3,"e":-0.5,"u":-1.6},
{"t":55400,"N":5.0,"E":-0.75,"U":-1.9,"n":4.55,"e":-1.05,"u":-2.7},{"t":55460,"N":4.65,"E":-0.8,"U":-2.4,"n":5.1,"e":-0.45,"u":-1.5},{"t":55520,"N":4.9,"E":-0.65,"U":-1.7,"n":4.4,"e":-0.95,"u":-2.6},{"t":55580,"N":4.5,"E":-0.75,"U":-2.2,"n":4.95,"e":-0.4,"u":-1.4},{"t":55640,"N":4.75,"E":-0.6,"U":-2.7,"n":4.25,"e":-0.9,"u":-1.8},{"t":55700,"N":4.35,"E":-0.7,"U":-1.9,"n":4.85,"e":-0.35,"u":-2.8},{"t":55760,"N":4.6,"E":-0.55,"U":-2.3,"n":4.15,"e":-0.9,"u":-1.5},{"t":55820,"N":4.25,"E":-0.65,"U":-1.6,"n":4.75,"e":-0.3,"u":-2.5},{"t":55880,"N":4.55,"E":-0.5,"U":-2.5,"n":4.1,"e":-0.85,"u":-1.7},{"t":55940,"N":4.3,"E":-0.6,"U":-2.0,"n":4.8,"e":-0.3,"u":-2.8},
{"t":56000,"N":4.6,"E":-0.45,"U":-2.2,"n":4.1,"e":-0.75,"u":-1.4},{"t":56060,"N":4.2,"E":-0.55,"U":-1.8,"n":4.7,"e":-0.25,"u":-2.7},{"t":56120,"N":4.5,"E":-0.4,"U":-2.6,"n":4.05,"e":-0.7,"u":-1.6},{"t":56180,"N":4.15,"E":-0.5,"U":-1.5,"n":4.65,"e":-0.15,"u":-2.4},{"t":56240,"N":4.4,"E":-0.35,"U":-2.1,"n":3.95,"e":-0.65,"u":-1.3},{"t":56300,"N":4.65,"E":-0.45,"U":-1.9,"n":4.2,"e":-0.15,"u":-2.6},{"t":56360,"N":4.25,"E":-0.3,"U":-2.8,"n":4.75,"e":-0.6,"u":-1.7},{"t":56420,"N":4.5,"E":-0.4,"U":-1.7,"n":4.1,"e":-0.1,"u":-2.5},{"t":56480,"N":4.35,"E":-0.25,"U":-2.3,"n":4.85,"e":-0.55,"u":-1.4},{"t":56540,"N":4.7,"E":-0.35,"U":-1.4,"n":4.2,"e":-0.05,"u":-2.3},
{"t":56600,"N":4.45,"E":-0.2,"U":-2.0,"n":4.95,"e":-0.5,"u":-1.2},{"t":56660,"N":4.6,"E":-0.25,"U":-1.6,"n":4.3,"e":0.05,"u":-2.4},{"t":56720,"N":4.85,"E":-0.1,"U":-2.2,"n":4.4,"e":-0.4,"u":-1.3},{"t":56780,"N":4.5,"E":-0.2,"U":-1.3,"n":5.0,"e":0.1,"u":-2.2},{"t":56840,"N":4.8,"E":0.0,"U":-1.9,"n":4.5,"e":-0.3,"u":-1.0},{"t":56900,"N":5.0,"E":-0.1,"U":-1.1,"n":4.6,"e":0.2,"u":-2.0},{"t":56960,"N":4.7,"E":0.1,"U":-1.7,"n":5.2,"e":-0.2,"u":-0.8},{"t":57020,"N":5.1,"E":0.05,"U":-0.9,"n":4.75,"e":0.3,"u":-1.8},{"t":57080,"N":4.9,"E":0.25,"U":-1.5,"n":5.35,"e":-0.05,"u":-0.5},{"t":57140,"N":5.25,"E":0.15,"U":-0.6,"n":4.85,"e":0.45,"u":-1.5},
{"t":57200,"N":5.05,"E":0.35,"U":-1.2,"n":5.5,"e":0.05,"u":-0.3},{"t":57260,"N":5.4,"E":0.5,"U":-0.2,"n":5.0,"e":0.2,"u":-1.0},{"t":57320,"N":5.2,"E":0.3,"U":0.4,"n":5.7,"e":0.65,"u":-0.5},{"t":57380,"N":5.55,"E":0.6,"U":-0.4,"n":5.15,"e":0.25,"u":0.5},{"t":57440,"N":5.35,"E":0.4,"U":0.2,"n":5.85,"e":0.1,"u":-0.6},{"t":57500,"N":5.8,"E":0.2,"U":-0.8,"n":5.5,"e":0.45,"u":0.1},{"t":57560,"N":3.7,"E":-0.3,"U":-1.3,"n":3.35,"e":-0.65,"u":-0.4},{"t":57620,"N":3.45,"E":-0.5,"U":-0.7,"n":3.9,"e":-0.15,"u":-1.7},{"t":57680,"N":3.8,"E":-0.35,"U":-1.6,"n":3.4,"e":-0.7,"u":-0.6},{"t":57740,"N":3.3,"E":-0.55,"U":-0.9,"n":3.75,"e":-0.2,"u":-1.9},
{"t":57800,"N":3.55,"E":-0.4,"U":-1.2,"n":3.1,"e":-0.75,"u":-0.3},{"t":57860,"N":3.2,"E":-0.6,"U":-0.5,"n":3.65,"e":-0.25,"u":-1.5},{"t":57920,"N":3.6,"E":-0.3,"U":-1.8,"n":3.15,"e":-0.65,"u":-0.8},{"t":57980,"N":3.35,"E":-0.45,"U":-1.0,"n":3.75,"e":-0.1,"u":-2.0},{"t":58040,"N":3.15,"E":-0.2,"U":-0.4,"n":3.55,"e":-0.55,"u":-1.3},{"t":58100,"N":3.45,"E":-0.1,"U":-1.4,"n":2.95,"e":-0.45,"u":-0.2},{"t":58160,"N":3.0,"E":-0.25,"U":-0.8,"n":3.45,"e":-0.6,"u":-1.7},{"t":58220,"N":3.3,"E":-0.4,"U":-1.1,"n":2.85,"e":-0.05,"u":-0.4},{"t":58280,"N":3.1,"E":-0.6,"U":-0.3,"n":3.5,"e":-0.3,"u":-1.3},{"t":58340,"N":2.85,"E":-0.7,"U":-0.9,"n":3.25,"e":-0.4,"u":0.0},
{"t":58400,"N":3.2,"E":-0.65,"U":0.3,"n":2.7,"e":-0.35,"u":-0.7},{"t":58460,"N":2.95,"E":-0.75,"U":1.2,"n":3.35,"e":-0.45,"u":2.3},{"t":58520,"N":2.75,"E":-0.6,"U":-0.5,"n":3.15,"e":-0.9,"u":0.9},{"t":58580,"N":3.1,"E":-0.8,"U":2.1,"n":2.6,"e":-0.5,"u":1.4},{"t":58640,"N":2.8,"E":-0.65,"U":0.6,"n":3.25,"e":-0.95,"u":2.9},{"t":58700,"N":2.65,"E":-0.7,"U":2.7,"n":3.1,"e":-0.4,"u":1.9},{"t":58760,"N":3.0,"E":-0.55,"U":1.6,"n":2.6,"e":-0.85,"u":2.6},{"t":58820,"N":3.2,"E":-0.75,"U":2.4,"n":2.8,"e":-0.45,"u":1.3},{"t":58880,"N":3.4,"E":-0.6,"U":1.0,"n":2.95,"e":-0.9,"u":2.2},{"t":58940,"N":3.35,"E":-0.5,"U":2.9,"n":3.75,"e":-0.25,"u":1.6},
{"t":59000,"N":3.7,"E":-0.45,"U":1.9,"n":3.3,"e":-0.7,"u":1.0},{"t":59060,"N":3.55,"E":-0.4,"U":2.6,"n":3.95,"e":-0.65,"u":1.5},{"t":59120,"N":3.9,"E":-0.55,"U":1.4,"n":3.45,"e":-0.25,"u":2.4},{"t":59180,"N":3.75,"E":-0.35,"U":5.1,"n":4.1,"e":-0.6,"u":2.0},{"t":59240,"N":4.05,"E":-0.2,"U":4.3,"n":3.7,"e":-0.45,"u":2.7},{"t":59300,"N":3.85,"E":-0.1,"U":2.2,"n":4.3,"e":-0.4,"u":1.3},{"t":59360,"N":4.2,"E":-0.3,"U":1.1,"n":3.8,"e":-0.05,"u":2.1},{"t":59420,"N":4.0,"E":-0.45,"U":2.5,"n":4.45,"e":-0.15,"u":1.5},{"t":59480,"N":4.35,"E":-0.25,"U":1.7,"n":3.95,"e":-0.5,"u":2.7},{"t":59540,"N":4.15,"E":-0.4,"U":0.8,"n":4.55,"e":-0.1,"u":1.8},
{"t":59600,"N":4.5,"E":-0.2,"U":2.0,"n":4.1,"e":-0.5,"u":1.0},{"t":59660,"N":4.3,"E":-0.35,"U":1.5,"n":4.65,"e":-0.6,"u":2.4},{"t":59720,"N":4.55,"E":-0.5,"U":2.8,"n":4.2,"e":-0.25,"u":1.6},{"t":59780,"N":4.25,"E":-0.3,"U":1.2,"n":4.6,"e":-0.6,"u":2.2},{"t":59840,"N":4.45,"E":-0.55,"U":0.7,"n":4.05,"e":-0.3,"u":1.7},{"t":59900,"N":4.1,"E":-0.45,"U":1.9,"n":4.4,"e":-0.75,"u":0.9},{"t":59960,"N":3.5,"E":-0.6,"U":1.3,"n":3.2,"e":-0.35,"u":0.5},{"t":60020,"N":3.3,"E":-0.75,"U":0.9,"n":3.7,"e":-0.45,"u":-0.4},{"t":60080,"N":3.55,"E":-0.6,"U":-0.2,"n":3.1,"e":-0.95,"u":1.0},{"t":60140,"N":3.2,"E":-0.85,"U":0.6,"n":3.6,"e":-0.55,"u":1.4},
{"t":60200,"N":3.4,"E":-0.7,"U":1.1,"n":2.95,"e":-1.0,"u":-0.3},{"t":60260,"N":3.1,"E":-0.55,"U":0.0,"n":3.55,"e":-0.85,"u":1.2},{"t":60320,"N":3.35,"E":-0.8,"U":0.5,"n":2.9,"e":-0.5,"u":-0.5},{"t":60380,"N":3.05,"E":-0.65,"U":-0.4,"n":3.5,"e":-0.95,"u":0.9},{"t":60440,"N":3.3,"E":-0.9,"U":0.8,"n":2.85,"e":-0.55,"u":-0.2},{"t":60500,"N":2.95,"E":-0.7,"U":0.2,"n":3.4,"e":-1.0,"u":1.4},{"t":60560,"N":3.2,"E":-0.6,"U":1.3,"n":2.75,"e":-0.9,"u":0.0},{"t":60620,"N":2.9,"E":-0.75,"U":-0.1,"n":3.35,"e":-0.45,"u":1.0},{"t":60680,"N":3.15,"E":-0.85,"U":0.7,"n":2.7,"e":-0.55,"u":-0.6},{"t":60740,"N":2.85,"E":-0.65,"U":0.3,"n":3.3,"e":-1.0,"u":1.2},
{"t":60800,"N":3.05,"E":-0.8,"U":-0.5,"n":2.6,"e":-0.5,"u":0.8},{"t":60860,"N":2.75,"E":-0.7,"U":0.4,"n":3.15,"e":-1.0,"u":-0.5},{"t":60920,"N":3.0,"E":-0.9,"U":-0.3,"n":2.55,"e":-0.6,"u":1.1},{"t":60980,"N":2.65,"E":-0.65,"U":0.9,"n":3.05,"e":-0.95,"u":-0.2},{"t":61040,"N":2.9,"E":-0.8,"U":0.1,"n":2.45,"e":-0.5,"u":1.2},{"t":61100,"N":2.55,"E":-0.6,"U":-0.6,"n":2.95,"e":-0.9,"u":0.6},{"t":61160,"N":2.8,"E":-0.85,"U":0.6,"n":2.35,"e":-0.55,"u":-0.4},{"t":61220,"N":2.5,"E":-0.7,"U":-0.1,"n":2.9,"e":-1.0,"u":1.0},{"t":61280,"N":2.75,"E":-0.95,"U":0.3,"n":2.3,"e":-0.6,"u":-0.5},{"t":61340,"N":2.45,"E":-0.75,"U":1.0,"n":2.85,"e":-1.05,"u":0.0},
{"t":61400,"N":2.65,"E":-0.6,"U":-0.4,"n":2.2,"e":-0.95,"u":0.9},{"t":61460,"N":2.4,"E":-0.85,"U":0.5,"n":2.75,"e":-0.55,"u":-0.6},{"t":61520,"N":2.65,"E":-0.7,"U":-0.2,"n":2.15,"e":-1.0,"u":1.1},{"t":61580,"N":2.3,"E":-0.9,"U":0.8,"n":2.7,"e":-0.6,"u":-0.3},{"t":61640,"N":2.55,"E":-0.75,"U":-0.7,"n":2.1,"e":-1.05,"u":0.4},{"t":61700,"N":2.2,"E":-0.65,"U":0.2,"n":2.6,"e":-0.95,"u":-0.9},{"t":61760,"N":2.45,"E":-0.85,"U":-0.3,"n":2.0,"e":-0.55,"u":0.8},{"t":61820,"N":2.15,"E":-0.95,"U":0.6,"n":2.55,"e":-0.65,"u":-0.4},{"t":61880,"N":2.4,"E":-0.7,"U":-0.5,"n":1.95,"e":-1.0,"u":1.0},{"t":61940,"N":2.1,"E":-0.8,"U":0.1,"n":2.5,"e":-1.1,"u":-0.6},
{"t":62000,"N":2.35,"E":-0.9,"U":0.9,"n":1.85,"e":-0.6,"u":-0.2},{"t":62060,"N":2.05,"E":-0.75,"U":-0.4,"n":2.45,"e":-1.05,"u":0.8},{"t":62120,"N":2.3,"E":-0.95,"U":0.4,"n":1.8,"e":-0.65,"u":-0.7},{"t":62180,"N":1.95,"E":-0.8,"U":-0.1,"n":2.35,"e":-1.1,"u":1.0},{"t":62240,"N":2.2,"E":-0.7,"U":0.7,"n":1.7,"e":-1.0,"u":-0.4},{"t":62300,"N":1.85,"E":-0.9,"U":-0.6,"n":2.3,"e":-0.6,"u":0.5},{"t":62360,"N":2.1,"E":-1.0,"U":0.2,"n":1.65,"e":-0.7,"u":-0.8},{"t":62420,"N":1.8,"E":-0.8,"U":-0.3,"n":2.2,"e":-1.1,"u":0.9},{"t":62480,"N":2.05,"E":-0.85,"U":0.5,"n":1.6,"e":-0.55,"u":-0.5},{"t":62540,"N":1.75,"E":-0.95,"U":-0.8,"n":2.15,"e":-1.2,"u":0.3},
{"t":62600,"N":2.0,"E":-0.75,"U":0.1,"n":1.55,"e":-1.05,"u":-0.7},{"t":62660,"N":1.7,"E":-0.9,"U":0.6,"n":2.1,"e":-0.6,"u":-0.3},{"t":62720,"N":1.95,"E":-1.05,"U":-0.5,"n":1.5,"e":-0.75,"u":0.9},{"t":62780,"N":1.6,"E":-0.85,"U":0.3,"n":2.0,"e":-1.15,"u":-0.6},{"t":62840,"N":1.85,"E":-0.95,"U":-0.2,"n":1.4,"e":-0.65,"u":1.0},{"t":62900,"N":1.55,"E":-0.8,"U":0.8,"n":1.95,"e":-1.1,"u":-0.4},{"t":62960,"N":1.8,"E":-1.0,"U":-0.7,"n":1.35,"e":-0.7,"u":0.5},{"t":63020,"N":1.5,"E":-0.9,"U":0.0,"n":1.9,"e":-1.2,"u":0.9},{"t":63080,"N":1.75,"E":-1.1,"U":0.4,"n":1.3,"e":-0.8,"u":-0.5},{"t":63140,"N":1.45,"E":-0.85,"U":-0.4,"n":1.85,"e":-1.15,"u":0.7},
{"t":63200,"N":1.7,"E":-0.95,"U":0.2,"n":1.25,"e":-0.65,"u":1.0},{"t":63260,"N":1.4,"E":-1.0,"U":0.7,"n":1.8,"e":-1.25,"u":-0.3},{"t":63320,"N":1.65,"E":-0.85,"U":-0.1,"n":1.2,"e":-1.15,"u":1.1},{"t":63380,"N":1.35,"E":-1.1,"U":0.5,"n":1.75,"e":-0.8,"u":-0.2},{"t":63440,"N":1.6,"E":-0.95,"U":1.0,"n":1.15,"e":-1.2,"u":0.1},{"t":63500,"N":1.3,"E":-0.8,"U":0.2,"n":1.7,"e":-1.1,"u":1.3},{"t":63560,"N":1.55,"E":-1.05,"U":0.8,"n":1.1,"e":-0.75,"u":-0.1},{"t":63620,"N":1.25,"E":-0.9,"U":-0.2,"n":1.65,"e":-1.2,"u":0.9},{"t":63680,"N":1.5,"E":-1.0,"U":0.6,"n":1.1,"e":-0.7,"u":1.4},{"t":63740,"N":1.35,"E":-1.15,"U":1.2,"n":1.75,"e":-0.85,"u":0.2},
{"t":63800,"N":1.6,"E":-0.95,"U":0.4,"n":1.15,"e":-1.25,"u":1.5},{"t":63860,"N":1.3,"E":-0.9,"U":1.1,"n":1.7,"e":-1.2,"u":0.3},{"t":63920,"N":1.55,"E":-1.1,"U":0.5,"n":1.1,"e":-0.8,"u":1.8},{"t":63980,"N":1.2,"E":-1.0,"U":1.6,"n":1.6,"e":-1.25,"u":0.6},{"t":64040,"N":1.45,"E":-0.85,"U":0.8,"n":1.05,"e":-1.15,"u":1.7},{"t":64100,"N":1.65,"E":-1.05,"U":1.3,"n":1.25,"e":-0.75,"u":0.4},{"t":64160,"N":1.3,"E":-1.15,"U":0.6,"n":1.7,"e":-0.85,"u":1.5},{"t":64220,"N":1.5,"E":-0.95,"U":1.9,"n":1.1,"e":-1.25,"u":0.9},{"t":64280,"N":1.25,"E":-1.05,"U":1.0,"n":1.65,"e":-0.75,"u":2.0},{"t":64340,"N":1.4,"E":-0.9,"U":1.4,"n":1.0,"e":-1.2,"u":0.5},
{"t":64400,"N":1.6,"E":-1.1,"U":0.7,"n":1.2,"e":-0.8,"u":1.6},{"t":64460,"N":1.35,"E":-1.0,"U":1.7,"n":1.75,"e":-1.3,"u":0.8},{"t":64520,"N":1.5,"E":-0.85,"U":1.2,"n":1.1,"e":-1.15,"u":2.0},{"t":64580,"N":1.3,"E":-1.05,"U":0.9,"n":1.7,"e":-0.75,"u":1.5},{"t":64640,"N":4.1,"E":-0.95,"U":3.6,"n":3.8,"e":-1.25,"u":2.8},{"t":64700,"N":3.85,"E":-1.1,"U":2.9,"n":4.15,"e":-0.8,"u":3.7},{"t":64760,"N":4.0,"E":-0.9,"U":3.3,"n":3.65,"e":-1.2,"u":2.5},{"t":64820,"N":3.6,"E":-1.0,"U":2.4,"n":3.95,"e":-0.75,"u":3.2},{"t":64880,"N":3.75,"E":-1.15,"U":3.0,"n":3.4,"e":-0.85,"u":2.2},{"t":64940,"N":3.4,"E":-0.95,"U":2.6,"n":3.75,"e":-1.25,"u":3.5},
{"t":65000,"N":3.55,"E":-1.05,"U":3.4,"n":3.15,"e":-0.75,"u":2.5},{"t":65060,"N":3.2,"E":-0.9,"U":2.2,"n":3.5,"e":-1.2,"u":3.1},{"t":65120,"N":3.35,"E":-1.0,"U":2.8,"n":2.95,"e":-0.7,"u":2.0},{"t":65180,"N":3.0,"E":-1.1,"U":2.0,"n":3.3,"e":-0.8,"u":2.9},{"t":65240,"N":2.85,"E":-0.95,"U":2.5,"n":2.5,"e":-1.25,"u":1.7},{"t":65300,"N":2.6,"E":-1.05,"U":1.9,"n":2.95,"e":-0.75,"u":2.8},{"t":65360,"N":2.7,"E":-0.9,"U":2.7,"n":2.3,"e":-1.2,"u":1.8},{"t":65420,"N":2.35,"E":-1.0,"U":2.1,"n":2.7,"e":-0.7,"u":2.9},{"t":65480,"N":2.45,"E":-1.1,"U":1.6,"n":2.05,"e":-0.8,"u":2.5},{"t":65540,"N":2.1,"E":-0.95,"U":2.4,"n":2.45,"e":-1.25,"u":1.5},
{"t":65600,"N":2.2,"E":-0.85,"U":1.8,"n":1.85,"e":-1.15,"u":2.6},{"t":65660,"N":1.85,"E":-1.0,"U":2.2,"n":2.2,"e":-0.7,"u":1.4},{"t":65720,"N":1.95,"E":-0.9,"U":1.5,"n":1.6,"e":-1.2,"u":2.5},{"t":65780,"N":1.65,"E":-0.95,"U":2.0,"n":2.0,"e":-0.65,"u":1.3},{"t":65840,"N":1.75,"E":-0.85,"U":1.7,"n":1.4,"e":-1.15,"u":2.6},{"t":65900,"N":1.5,"E":-0.95,"U":2.3,"n":1.85,"e":-0.7,"u":1.5},{"t":65960,"N":1.35,"E":-0.9,"U":1.9,"n":1.75,"e":-1.15,"u":2.7},{"t":66020,"N":1.6,"E":-0.8,"U":2.4,"n":1.2,"e":-1.05,"u":1.6},{"t":66080,"N":1.25,"E":-0.95,"U":1.8,"n":1.65,"e":-0.65,"u":2.8},{"t":66140,"N":1.5,"E":-0.85,"U":2.6,"n":1.1,"e":-1.1,"u":1.9},
{"t":66200,"N":1.7,"E":-0.75,"U":2.2,"n":1.25,"e":-1.0,"u":3.0},{"t":66260,"N":1.3,"E":-0.9,"U":2.9,"n":1.7,"e":-0.6,"u":2.1},{"t":66320,"N":1.55,"E":-0.8,"U":2.0,"n":1.15,"e":-1.05,"u":3.1},{"t":66380,"N":1.2,"E":-0.7,"U":2.7,"n":1.65,"e":-0.95,"u":1.9},{"t":66440,"N":1.45,"E":-0.85,"U":2.4,"n":1.05,"e":-0.55,"u":3.3},{"t":66500,"N":1.75,"E":-0.75,"U":3.1,"n":1.3,"e":-1.0,"u":2.2},{"t":66560,"N":1.35,"E":-0.65,"U":2.3,"n":1.8,"e":-0.9,"u":3.2},{"t":66620,"N":1.6,"E":-0.8,"U":2.9,"n":1.15,"e":-0.5,"u":2.1},{"t":66680,"N":1.4,"E":-0.7,"U":3.4,"n":1.85,"e":-0.95,"u":2.5},{"t":66740,"N":1.2,"E":-0.6,"U":2.6,"n":1.6,"e":-0.85,"u":3.5},
{"t":66800,"N":1.55,"E":-0.65,"U":3.2,"n":1.15,"e":-0.35,"u":2.5},{"t":66860,"N":1.4,"E":-0.5,"U":2.8,"n":1.8,"e":-0.75,"u":3.7},{"t":66920,"N":1.7,"E":-0.6,"U":3.5,"n":1.25,"e":-0.3,"u":2.7},{"t":66980,"N":1.3,"E":-0.45,"U":3.1,"n":1.75,"e":-0.7,"u":4.0},{"t":67040,"N":1.55,"E":-0.5,"U":3.8,"n":1.1,"e":-0.2,"u":3.0},{"t":67100,"N":1.8,"E":-0.35,"U":3.3,"n":1.35,"e":-0.6,"u":4.1},{"t":67160,"N":1.35,"E":-0.45,"U":3.6,"n":1.8,"e":-0.15,"u":2.9},{"t":67220,"N":1.6,"E":-0.3,"U":4.2,"n":1.2,"e":-0.55,"u":3.4},{"t":67280,"N":1.25,"E":-0.4,"U":3.5,"n":1.7,"e":-0.1,"u":4.4},{"t":67340,"N":1.5,"E":-0.2,"U":3.9,"n":1.15,"e":-0.45,"u":3.2},
{"t":67400,"N":1.7,"E":-0.25,"U":4.4,"n":1.3,"e":0.0,"u":3.7},{"t":67460,"N":1.4,"E":-0.1,"U":3.7,"n":1.85,"e":-0.35,"u":4.6},{"t":67520,"N":1.6,"E":-0.15,"U":4.1,"n":1.25,"e":0.1,"u":3.5},{"t":67580,"N":1.85,"E":0.0,"U":4.6,"n":1.45,"e":-0.25,"u":4.0},{"t":67640,"N":1.5,"E":0.1,"U":4.0,"n":1.95,"e":-0.15,"u":4.9},{"t":67700,"N":1.75,"E":0.05,"U":4.8,"n":1.4,"e":0.3,"u":4.2},{"t":67760,"N":1.6,"E":0.25,"U":4.5,"n":2.0,"e":0.05,"u":5.3},{"t":67820,"N":1.9,"E":0.35,"U":5.1,"n":1.55,"e":0.15,"u":4.6},{"t":67880,"N":1.7,"E":0.4,"U":5.4,"n":2.1,"e":0.6,"u":5.0},{"t":67940,"N":2.0,"E":0.55,"U":5.7,"n":1.65,"e":0.35,"u":5.3},
{"t":68000,"N":1.8,"E":0.65,"U":6.0,"n":2.2,"e":0.85,"u":5.6},{"t":68060,"N":2.1,"E":0.8,"U":6.3,"n":1.75,"e":0.6,"u":6.0},{"t":68120,"N":1.95,"E":0.95,"U":6.7,"n":2.35,"e":1.15,"u":6.4},{"t":68180,"N":2.3,"E":1.1,"U":7.2,"n":2.0,"e":0.9,"u":6.9},{"t":68240,"N":2.15,"E":1.3,"U":7.7,"n":2.55,"e":1.45,"u":7.4},{"t":68300,"N":2.5,"E":1.5,"U":8.3,"n":2.3,"e":1.35,"u":8.0},{"t":68330,"N":2.55,"E":1.65,"U":8.6,"n":2.7,"e":1.5,"u":8.4},{"t":68360,"N":2.65,"E":1.75,"U":8.9,"n":2.45,"e":1.9,"u":8.75},{"t":68390,"N":2.4,"E":1.6,"U":9.05,"n":2.7,"e":1.85,"u":8.8},
{"t":68420,"N":0.9,"E":-0.6,"U":1.0,"n":0.3,"e":-1.1,"u":-0.1},{"t":68480,"N":0.3,"E":-1.0,"U":0.2,"n":0.85,"e":-0.5,"u":1.1},{"t":68540,"N":0.65,"E":-0.8,"U":0.7,"n":0.05,"e":-1.25,"u":-0.3},{"t":68600,"N":0.1,"E":-1.3,"U":-0.2,"n":0.7,"e":-0.7,"u":0.9},{"t":68660,"N":0.5,"E":-0.7,"U":1.2,"n":0.0,"e":-1.15,"u":0.1},{"t":68720,"N":0.8,"E":-1.1,"U":0.4,"n":0.2,"e":-0.6,"u":1.1},{"t":68780,"N":0.25,"E":-0.9,"U":-0.1,"n":0.75,"e":-0.45,"u":0.8},{"t":68840,"N":0.6,"E":-0.6,"U":0.8,"n":0.0,"e":-1.05,"u":-0.3},{"t":68900,"N":0.35,"E":-1.0,"U":0.0,"n":0.9,"e":-0.55,"u":1.0},{"t":68960,"N":0.75,"E":-0.75,"U":0.6,"n":0.2,"e":-1.1,"u":-0.2},
{"t":69020,"N":0.15,"E":-0.5,"U":-0.4,"n":0.7,"e":-0.85,"u":0.7},{"t":69080,"N":0.55,"E":-0.85,"U":0.9,"n":0.05,"e":-0.4,"u":-0.1},{"t":69140,"N":0.3,"E":-0.6,"U":0.3,"n":0.8,"e":-0.9,"u":1.0},{"t":69200,"N":0.7,"E":-0.4,"U":-0.2,"n":0.1,"e":-0.75,"u":0.6},{"t":69260,"N":0.4,"E":-0.45,"U":0.5,"n":0.85,"e":-0.15,"u":-0.5},{"t":69320,"N":0.15,"E":-0.3,"U":-0.3,"n":0.65,"e":-0.65,"u":0.7},{"t":69380,"N":0.6,"E":-0.55,"U":0.8,"n":0.05,"e":-0.2,"u":-0.4},{"t":69440,"N":0.3,"E":-0.25,"U":0.1,"n":0.8,"e":-0.6,"u":0.9},{"t":69500,"N":0.7,"E":-0.45,"U":-1.6,"n":0.2,"e":-0.1,"u":0.5},{"t":69560,"N":0.2,"E":-0.35,"U":0.4,"n":0.7,"e":-0.7,"u":-0.6},
{"t":69620,"N":0.5,"E":-0.2,"U":-0.5,"n":0.0,"e":-0.55,"u":0.6},{"t":69680,"N":0.85,"E":-0.4,"U":0.6,"n":0.3,"e":-0.05,"u":-0.4},{"t":69740,"N":0.35,"E":-0.15,"U":-0.1,"n":0.8,"e":-0.5,"u":0.8},{"t":69800,"N":0.6,"E":-0.35,"U":0.3,"n":0.1,"e":0.0,"u":-0.6},{"t":69860,"N":0.25,"E":-0.5,"U":-0.7,"n":0.75,"e":-0.15,"u":0.5},{"t":69920,"N":0.55,"E":-0.2,"U":0.7,"n":0.05,"e":-0.55,"u":-0.3},{"t":69980,"N":0.4,"E":-0.3,"U":-1.1,"n":0.9,"e":0.0,"u":0.6},{"t":70040,"N":0.75,"E":-0.1,"U":0.2,"n":0.25,"e":-0.45,"u":-0.5},{"t":70100,"N":0.3,"E":-0.35,"U":-0.4,"n":0.8,"e":0.0,"u":0.7},{"t":70160,"N":0.6,"E":-0.15,"U":0.5,"n":0.15,"e":-0.45,"u":-0.3},
{"t":70220,"N":0.45,"E":-0.3,"U":-0.2,"n":0.95,"e":0.05,"u":0.7},{"t":70280,"N":0.8,"E":-0.05,"U":0.8,"n":0.3,"e":-0.35,"u":-0.3},{"t":70340,"N":0.35,"E":-0.25,"U":0.0,"n":0.85,"e":0.1,"u":0.9},{"t":70400,"N":0.65,"E":-0.1,"U":-0.6,"n":0.2,"e":-0.4,"u":0.5},{"t":70460,"N":0.5,"E":-0.2,"U":0.4,"n":1.0,"e":0.1,"u":-0.4},{"t":70520,"N":0.8,"E":0.0,"U":-0.3,"n":0.35,"e":-0.3,"u":0.8},{"t":70580,"N":0.4,"E":-0.15,"U":0.7,"n":0.9,"e":0.15,"u":-0.2},{"t":70640,"N":0.65,"E":0.1,"U":0.1,"n":0.25,"e":-0.2,"u":1.0},{"t":70700,"N":0.9,"E":-0.05,"U":0.9,"n":0.45,"e":0.25,"u":0.0},{"t":70760,"N":0.55,"E":0.15,"U":0.3,"n":1.0,"e":-0.15,"u":1.1},
{"t":70820,"N":0.85,"E":0.05,"U":1.2,"n":0.5,"e":0.3,"u":0.4},{"t":70880,"N":1.1,"E":0.25,"U":0.6,"n":0.7,"e":0.0,"u":1.4},{"t":70940,"N":0.75,"E":0.1,"U":1.5,"n":1.2,"e":0.35,"u":0.8},{"t":71000,"N":1.6,"E":0.5,"U":2.2,"n":1.25,"e":0.2,"u":1.4},{"t":71060,"N":1.3,"E":0.3,"U":2.9,"n":1.75,"e":0.6,"u":1.9},{"t":71120,"N":1.75,"E":0.6,"U":1.8,"n":1.35,"e":0.3,"u":2.6},{"t":71180,"N":1.45,"E":0.35,"U":2.6,"n":1.85,"e":0.65,"u":1.6},{"t":71240,"N":1.2,"E":0.7,"U":1.5,"n":1.6,"e":0.4,"u":2.4},{"t":71300,"N":1.55,"E":0.45,"U":2.3,"n":1.15,"e":0.15,"u":1.4},{"t":71360,"N":1.35,"E":0.25,"U":1.9,"n":1.75,"e":0.55,"u":2.7},
{"t":71420,"N":1.25,"E":0.4,"U":1.4,"n":1.65,"e":0.05,"u":2.3},{"t":71480,"N":1.5,"E":0.2,"U":2.0,"n":1.05,"e":0.5,"u":1.1},{"t":71540,"N":1.1,"E":0.35,"U":1.1,"n":1.55,"e":0.0,"u":2.1},{"t":71600,"N":1.4,"E":0.15,"U":1.7,"n":1.0,"e":0.45,"u":0.9},{"t":71660,"N":1.2,"E":0.3,"U":2.2,"n":1.6,"e":-0.05,"u":1.3},{"t":71720,"N":1.55,"E":0.05,"U":1.3,"n":1.15,"e":0.4,"u":2.2},{"t":71780,"N":1.05,"E":0.25,"U":1.8,"n":1.5,"e":-0.1,"u":0.9},{"t":71840,"N":1.35,"E":0.1,"U":1.0,"n":0.95,"e":0.4,"u":2.0},{"t":71900,"N":1.15,"E":0.3,"U":1.6,"n":1.55,"e":-0.05,"u":0.8},{"t":71960,"N":1.45,"E":0.0,"U":2.1,"n":1.05,"e":0.35,"u":1.2},
{"t":72020,"N":1.0,"E":0.2,"U":1.2,"n":1.45,"e":-0.15,"u":2.0},{"t":72080,"N":1.3,"E":0.05,"U":1.7,"n":0.9,"e":0.35,"u":0.9},{"t":72140,"N":1.1,"E":0.25,"U":0.9,"n":1.5,"e":-0.1,"u":1.9},{"t":72200,"N":1.4,"E":-0.05,"U":1.5,"n":1.0,"e":0.3,"u":0.7},{"t":72260,"N":1.2,"E":0.1,"U":1.9,"n":0.85,"e":-0.2,"u":1.0},{"t":72320,"N":0.95,"E":-0.1,"U":1.1,"n":1.35,"e":0.25,"u":2.0},{"t":72380,"N":1.3,"E":0.15,"U":1.6,"n":0.9,"e":-0.2,"u":0.7},{"t":72440,"N":1.05,"E":-0.15,"U":0.8,"n":1.45,"e":0.2,"u":1.8},{"t":72500,"N":1.25,"E":0.05,"U":1.4,"n":0.85,"e":-0.3,"u":0.6},{"t":72560,"N":0.9,"E":-0.2,"U":2.0,"n":1.3,"e":0.15,"u":1.1},
{"t":72620,"N":1.15,"E":0.0,"U":1.2,"n":0.8,"e":-0.35,"u":1.9},{"t":72680,"N":1.0,"E":-0.25,"U":0.7,"n":1.35,"e":0.1,"u":1.6},{"t":72740,"N":1.3,"E":-0.05,"U":1.5,"n":0.85,"e":-0.4,"u":0.5},{"t":72800,"N":0.85,"E":-0.3,"U":1.0,"n":1.25,"e":0.05,"u":1.8},{"t":72860,"N":1.1,"E":-0.1,"U":1.7,"n":0.7,"e":-0.45,"u":0.7},{"t":72920,"N":0.95,"E":-0.35,"U":0.9,"n":1.3,"e":0.0,"u":1.6},{"t":72980,"N":1.2,"E":-0.15,"U":2.6,"n":0.75,"e":-0.5,"u":1.0},{"t":73040,"N":0.8,"E":-0.4,"U":1.3,"n":1.2,"e":-0.05,"u":0.5},{"t":73100,"N":1.05,"E":-0.2,"U":0.8,"n":0.65,"e":-0.55,"u":1.7},{"t":73160,"N":0.9,"E":-0.45,"U":1.5,"n":1.25,"e":-0.1,"u":0.6},
{"t":73220,"N":1.15,"E":-0.25,"U":1.0,"n":0.7,"e":-0.55,"u":1.8},{"t":73280,"N":0.75,"E":-0.5,"U":1.8,"n":1.15,"e":-0.2,"u":0.7},{"t":73340,"N":1.0,"E":-0.3,"U":0.6,"n":0.6,"e":-0.65,"u":1.5},{"t":73400,"N":0.85,"E":-0.55,"U":1.2,"n":1.2,"e":-0.25,"u":0.4},{"t":73460,"N":1.1,"E":-0.6,"U":0.9,"n":0.7,"e":-0.9,"u":1.7},{"t":73520,"N":0.8,"E":-0.75,"U":1.4,"n":1.2,"e":-0.45,"u":0.5},{"t":73580,"N":0.95,"E":-0.65,"U":0.7,"n":0.6,"e":-1.0,"u":1.6},{"t":73640,"N":0.7,"E":-0.85,"U":1.6,"n":1.1,"e":-0.55,"u":0.6},{"t":73700,"N":1.05,"E":-0.7,"U":0.5,"n":0.65,"e":-1.05,"u":1.5},{"t":73760,"N":0.85,"E":-0.95,"U":1.1,"n":1.2,"e":-0.6,"u":0.3},
{"t":73820,"N":0.65,"E":-0.8,"U":1.7,"n":1.05,"e":-1.15,"u":0.7},{"t":73880,"N":1.0,"E":-1.1,"U":0.8,"n":0.6,"e":-0.75,"u":1.6},{"t":73940,"N":0.8,"E":-0.9,"U":1.3,"n":1.15,"e":-1.25,"u":0.4},{"t":74000,"N":0.95,"E":-1.2,"U":0.6,"n":0.55,"e":-0.85,"u":1.5},{"t":74060,"N":0.7,"E":-0.95,"U":1.5,"n":1.1,"e":-1.3,"u":0.5},{"t":74120,"N":0.9,"E":-1.05,"U":0.9,"n":0.5,"e":-0.7,"u":1.7},{"t":74180,"N":0.6,"E":-0.85,"U":1.2,"n":1.0,"e":-1.2,"u":0.3},{"t":74240,"N":0.85,"E":-1.0,"U":0.4,"n":0.45,"e":-0.65,"u":1.4},{"t":74300,"N":1.0,"E":-0.8,"U":1.6,"n":0.65,"e":-1.1,"u":0.7},{"t":74360,"N":0.75,"E":-0.7,"U":0.8,"n":1.1,"e":-0.95,"u":1.5},
{"t":74420,"N":0.95,"E":-0.6,"U":1.1,"n":0.6,"e":-0.85,"u":0.3},{"t":74480,"N":0.65,"E":-0.75,"U":0.5,"n":1.05,"e":-0.45,"u":1.4},{"t":74540,"N":0.85,"E":-0.5,"U":1.3,"n":0.5,"e":-0.8,"u":0.4},{"t":74600,"N":0.7,"E":-0.6,"U":0.7,"n":1.05,"e":-0.3,"u":1.5},{"t":74660,"N":0.9,"E":-0.45,"U":1.0,"n":0.55,"e":-0.75,"u":0.2},{"t":74720,"N":0.65,"E":-0.3,"U":0.6,"n":1.0,"e":-0.6,"u":1.4},{"t":74780,"N":0.85,"E":-0.5,"U":1.3,"n":0.5,"e":-0.2,"u":0.3},{"t":74840,"N":0.6,"E":-0.35,"U":0.4,"n":0.95,"e":-0.65,"u":1.2},{"t":74900,"N":0.95,"E":-0.25,"U":0.9,"n":0.6,"e":-0.55,"u":0.1},{"t":74960,"N":0.7,"E":-0.45,"U":1.2,"n":1.05,"e":-0.15,"u":0.5},
{"t":75020,"N":0.8,"E":-0.3,"U":0.5,"n":0.5,"e":-0.6,"u":1.3},{"t":75080,"N":0.55,"E":-0.2,"U":0.8,"n":0.9,"e":-0.5,"u":0.0},{"t":75140,"N":0.9,"E":-0.4,"U":1.1,"n":0.6,"e":-0.1,"u":0.4},{"t":75200,"N":0.75,"E":-0.25,"U":0.3,"n":1.1,"e":-0.55,"u":1.0},{"t":75260,"N":1.3,"E":-0.35,"U":0.7,"n":1.0,"e":-0.05,"u":-0.3},{"t":75320,"N":1.6,"E":-0.3,"U":-1.0,"n":1.4,"e":-0.55,"u":-0.6},{"t":75380,"N":1.9,"E":-0.2,"U":-1.8,"n":1.7,"e":-0.45,"u":-1.4}
]},
"resolve":{"axis":{"x":"independent","y":"independent"}},
"layer":[
{"mark":{"type":"point","filled":true,"shape":"circle","size":38,"opacity":1},
 "encoding":{
  "x":{"field":"t","type":"quantitative","scale":{"domain":[34390,75410],"nice":false,"zero":false},
       "axis":{"orient":"bottom","values":[40000,50000,60000,70000],"format":"d","grid":true,"title":"Time (s)","labelPadding":12,"titleAlign":"center","titleBaseline":"alphabetic","titleX":404,"titleY":33}},
  "y":{"field":"N","type":"quantitative","scale":{"domain":[-7.08,9.57],"nice":false,"zero":false},
       "axis":{"orient":"left","values":[-6,-4,-2,0,2,4,6,8],"grid":true,"title":"Error (m)","labelPadding":13,"titleAlign":"center","titleBaseline":"alphabetic","titleAngle":-90,"titleX":-50,"titleY":283}},
  "color":{"datum":"North error","type":"nominal","scale":{"domain":["North error","East error","Up error"],"range":["#0000ff","#008000","#ff0000"]}}}},
{"mark":{"type":"point","filled":true,"shape":"circle","size":38,"opacity":1},
 "encoding":{
  "x":{"field":"t","type":"quantitative","axis":{"orient":"top","values":[40000,50000,60000,70000],"labels":false,"grid":false,"title":null}},
  "y":{"field":"n","type":"quantitative","axis":null},
  "color":{"datum":"North error","type":"nominal"}}},
{"mark":{"type":"point","filled":true,"shape":"circle","size":38,"opacity":1},
 "encoding":{
  "x":{"field":"t","type":"quantitative","axis":null},
  "y":{"field":"E","type":"quantitative","axis":null},
  "color":{"datum":"East error","type":"nominal"}}},
{"mark":{"type":"point","filled":true,"shape":"circle","size":38,"opacity":1},
 "encoding":{
  "x":{"field":"t","type":"quantitative","axis":null},
  "y":{"field":"e","type":"quantitative","axis":null},
  "color":{"datum":"East error","type":"nominal"}}},
{"mark":{"type":"point","filled":true,"shape":"circle","size":38,"opacity":1},
 "encoding":{
  "x":{"field":"t","type":"quantitative","axis":null},
  "y":{"field":"U","type":"quantitative","axis":null},
  "color":{"datum":"Up error","type":"nominal"}}},
{"mark":{"type":"point","filled":true,"shape":"circle","size":38,"opacity":1},
 "encoding":{
  "x":{"field":"t","type":"quantitative","axis":null},
  "y":{"field":"u","type":"quantitative","axis":null},
  "color":{"datum":"Up error","type":"nominal"}}}
]
}
